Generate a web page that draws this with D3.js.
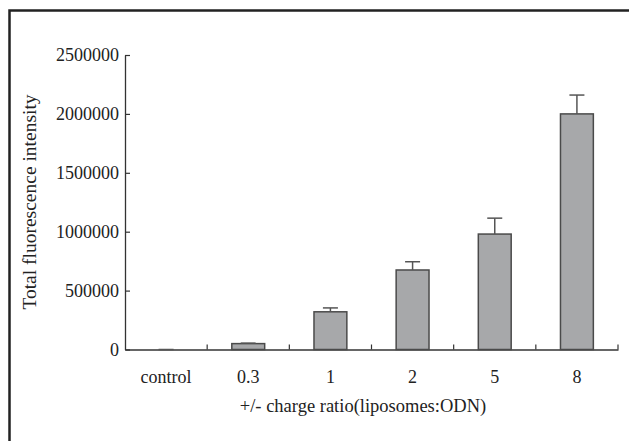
<!DOCTYPE html>
<html>
<head>
<meta charset="utf-8">
<script src="https://cdn.jsdelivr.net/npm/d3@7"></script>
<style>
  body { margin: 0; background: #fff; }
  text { font-family: "Liberation Serif", "Times New Roman", serif; fill: #222; }
</style>
</head>
<body>
<div id="chart"></div>
<script>
// fluorescence vs +/- charge ratio, bars with upward error bars
const categories = ["control", "0.3", "1", "2", "5", "8"];
const means = [0, 50000, 320000, 675000, 980000, 2000000];
const errors = [0, 4000, 33000, 70000, 135000, 160000];
const yTicks = [0, 500000, 1000000, 1500000, 2000000, 2500000];

const width = 629, height = 441;
const plotLeft = 125, plotRight = 618, plotTop = 55, plotBottom = 349.5;

const svg = d3
  .select("#chart")
  .append("svg")
  .attr("width", width)
  .attr("height", height);

// frame (only top and left edges are visible in the picture)
svg
  .append("rect")
  .attr("x", 9.5)
  .attr("y", 10.5)
  .attr("width", 700)
  .attr("height", 500)
  .attr("fill", "none")
  .attr("stroke", "#222")
  .attr("stroke-width", 2.5);

const x = d3
  .scaleBand()
  .domain(categories)
  .range([plotLeft, plotRight])
  .paddingInner(0.6)
  .paddingOuter(0.3);

const y = d3.scaleLinear().domain([0, 2500000]).range([plotBottom, plotTop]);

// Y axis, ticks pointing inwards
const yAxis = svg
  .append("g")
  .attr("transform", `translate(${plotLeft},0)`)
  .call(d3.axisLeft(y).tickValues(yTicks).tickSizeInner(-5).tickSizeOuter(0).tickPadding(6).tickFormat(d3.format("d")));
yAxis.select(".domain").attr("stroke", "#333").attr("stroke-width", 1.3);
yAxis.selectAll(".tick line").attr("stroke", "#333").attr("stroke-width", 1.2);
yAxis.selectAll("text").style("font-size", "18px").attr("fill", "#222");

// X axis labels
const xAxis = svg
  .append("g")
  .attr("transform", `translate(0,${plotBottom})`)
  .call(d3.axisBottom(x).tickSize(0).tickPadding(21));
xAxis.select(".domain").attr("stroke", "#333").attr("stroke-width", 1.3);
xAxis.selectAll("text").style("font-size", "18px").attr("fill", "#222");

// X ticks at category boundaries, pointing up
const halfGap = (x.step() * x.paddingInner()) / 2;
svg
  .append("g")
  .selectAll("line")
  .data(categories)
  .join("line")
  .attr("x1", (d) => x(d) + x.bandwidth() + halfGap)
  .attr("x2", (d) => x(d) + x.bandwidth() + halfGap)
  .attr("y1", plotBottom)
  .attr("y2", plotBottom - 5)
  .attr("stroke", "#333")
  .attr("stroke-width", 1.2);

const rows = categories.map((c, i) => ({ c, m: means[i], e: errors[i] }));

// Bars
svg
  .append("g")
  .selectAll("rect")
  .data(rows)
  .join("rect")
  .attr("x", (d) => x(d.c))
  .attr("y", (d) => y(d.m))
  .attr("width", x.bandwidth())
  .attr("height", (d) => plotBottom - y(d.m))
  .attr("fill", "#a7a8aa")
  .attr("stroke", "#4a4a4a")
  .attr("stroke-width", 1.5);

// Error bars (upper half only)
const err = svg.append("g").attr("stroke", "#555").attr("stroke-width", 1.5);
err
  .selectAll(".stem")
  .data(rows)
  .join("line")
  .attr("class", "stem")
  .attr("x1", (d) => x(d.c) + x.bandwidth() / 2)
  .attr("x2", (d) => x(d.c) + x.bandwidth() / 2)
  .attr("y1", (d) => y(d.m))
  .attr("y2", (d) => y(d.m + d.e));
err
  .selectAll(".cap")
  .data(rows)
  .join("line")
  .attr("class", "cap")
  .attr("x1", (d) => x(d.c) + x.bandwidth() / 2 - 7.5)
  .attr("x2", (d) => x(d.c) + x.bandwidth() / 2 + 7.5)
  .attr("y1", (d) => y(d.m + d.e))
  .attr("y2", (d) => y(d.m + d.e));

// axis titles
svg
  .append("text")
  .attr("x", 363)
  .attr("y", 412)
  .attr("text-anchor", "middle")
  .style("font-size", "18.5px")
  .text("+/- charge ratio(liposomes:ODN)");

svg
  .append("text")
  .attr("transform", "translate(36,202)rotate(-90)")
  .attr("text-anchor", "middle")
  .style("font-size", "19.5px")
  .text("Total fluorescence intensity");
</script>
</body>
</html>
